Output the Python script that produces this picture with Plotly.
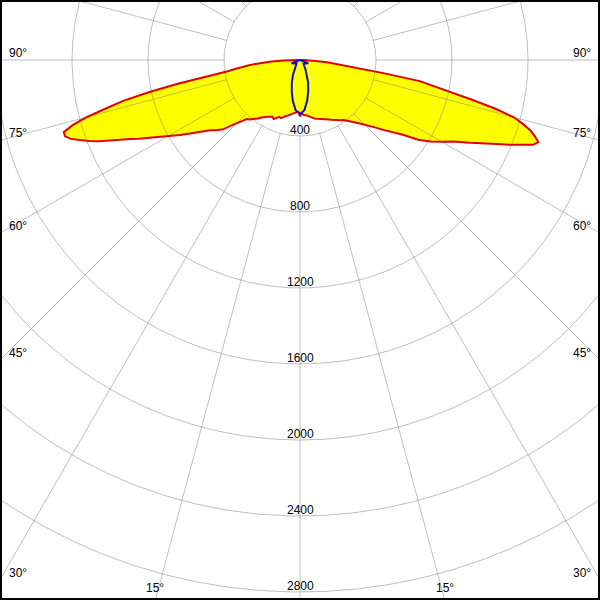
import numpy as np
import plotly.graph_objects as go

# ---------------- data ----------------
# C0-C180 plane (red outline, yellow fill): gamma angle (deg, negative = left) -> intensity (cd)
red_angles = [-90, -89, -88, -87, -86, -85, -84, -83, -82, -81, -80, -79, -78, -77, -76, -75,
              -74, -73, -72, -71, -70, -69, -68, -67, -66, -65, -64, -63, -62, -61, -60, -58,
              -56, -54, -52, -50, -48, -46, -44, -42, -40, -38, -36, -34, -32, -30, -28, -26,
              -24, -22, -20, -18, -16, -14, -12, -10, -8, -6, -4, -2, -1, 0,
              1, 2, 4, 6, 8, 10, 12, 14, 16, 18, 20, 22, 24, 26, 28, 30, 32, 34, 36, 38, 40,
              42, 44, 46, 48, 50, 52, 54, 56, 58, 60, 62, 64, 66, 67, 68, 69, 70, 71, 72, 73,
              74, 75, 76, 77, 78, 79, 80, 81, 82, 83, 84, 85, 86, 87, 88, 89, 90]
red_cd = [0, 40, 85, 150, 195, 235, 275, 315, 350, 390, 510, 650, 810, 955, 1050, 1165,
          1245, 1300, 1300, 1275, 1232, 1190, 1140, 1080, 1025, 985, 945, 905, 865, 830, 800, 745,
          690, 640, 600, 575, 545, 492, 450, 418, 408, 395, 380, 365, 352, 345, 338, 332,
          340, 328, 318, 322, 310, 304, 298, 292, 288, 282, 276, 272, 280, 297,
          280, 285, 290, 292, 298, 305, 312, 318, 322, 326, 330, 332, 340, 348, 356, 365, 372, 382, 390, 405, 420,
          445, 468, 495, 530, 572, 615, 670, 750, 810, 860, 915, 995, 1075, 1130, 1190, 1250, 1305, 1326, 1300, 1268,
          1220, 1165, 1060, 925, 805, 720, 640, 450, 330, 250, 190, 150, 110, 75, 45, 20, 0]

# C90-C270 plane (blue outline)
blue_angles = [-90, -80, -75, -72, -70, -68, -65, -60, -55, -50, -45, -40, -35, -30, -25, -20, -15, -10, -5, 0,
               5, 10, 15, 20, 25, 30, 35, 40, 45, 50, 55, 60, 65, 68, 70, 72, 75, 80, 90]
blue_cd = [0, 0, 3, 12, 30, 47, 44, 38, 33, 28, 26, 30, 40, 58, 88, 125, 168, 218, 265, 285,
           265, 218, 168, 125, 88, 58, 40, 30, 26, 28, 33, 38, 44, 47, 30, 12, 3, 0, 0]

ring_values = [400, 800, 1200, 1600, 2000, 2400, 2800]
ring_labels = ["400", "800", "1200", "1600", "2000", "2400", "2800"]
angle_ticks = [90, 75, 60, 45, 30, 15]
angle_labels = ["90°", "75°", "60°", "45°", "30°", "15°"]

# ---------------- geometry ----------------
W, H = 600, 600
CX, CY = 300, 60          # pole position in pixels
PX_PER_CD = 0.19
x_range = [-CX / PX_PER_CD, (W - CX) / PX_PER_CD]
y_range = [-(H - CY) / PX_PER_CD, CY / PX_PER_CD]


def to_xy(angles, cd):
    g = np.radians(np.asarray(angles, dtype=float))
    r = np.asarray(cd, dtype=float)
    return r * np.sin(g), -r * np.cos(g)


def px_to_data(px, py):
    return (px - CX) / PX_PER_CD, (CY - py) / PX_PER_CD


GRID = "rgba(110,110,110,0.45)"
FONT = dict(family="Liberation Sans, Arial, sans-serif", size=12, color="black")

fig = go.Figure()

# yellow fill (C0-C180)
rx, ry = to_xy(red_angles, red_cd)
fig.add_trace(go.Scatter(x=rx, y=ry, mode="lines", fill="toself", fillcolor="#ffff00",
                         line=dict(width=0, color="rgba(0,0,0,0)"), hoverinfo="skip", showlegend=False))

# grid circles
t = np.linspace(0, 2 * np.pi, 721)
for rv in ring_values:
    fig.add_trace(go.Scatter(x=rv * np.cos(t), y=rv * np.sin(t), mode="lines",
                             line=dict(color=GRID, width=1), hoverinfo="skip", showlegend=False))

# radial grid lines every 15 deg, starting from the first ring
gx, gy = [], []
for a in range(0, 360, 15):
    ar = np.radians(a)
    for rr in (ring_values[0], 5000):
        gx.append(rr * np.sin(ar))
        gy.append(-rr * np.cos(ar))
    gx.append(None)
    gy.append(None)
fig.add_trace(go.Scatter(x=gx, y=gy, mode="lines", line=dict(color=GRID, width=1),
                         hoverinfo="skip", showlegend=False))

# red outline
fig.add_trace(go.Scatter(x=rx, y=ry, mode="lines", line=dict(color="#e00000", width=2),
                         hoverinfo="skip", showlegend=False))
# blue outline
bx, by = to_xy(blue_angles, blue_cd)
fig.add_trace(go.Scatter(x=bx, y=by, mode="lines", line=dict(color="#1010c8", width=2),
                         hoverinfo="skip", showlegend=False))

annotations = []
# ring labels just above each ring on the vertical axis
for rv, lab in zip(ring_values, ring_labels):
    annotations.append(dict(x=0, y=-rv + 6 / PX_PER_CD, xref="x", yref="y", text=lab,
                            showarrow=False, font=FONT, xanchor="center", yanchor="middle"))

# angle labels where the rays meet the frame
for a, lab in zip(angle_ticks, angle_labels):
    ar = np.radians(a)
    s, c = np.sin(ar), np.cos(ar)
    t_side = CX / s if s > 1e-9 else np.inf
    t_bot = (H - CY) / c if c > 1e-9 else np.inf
    for side in (-1, 1):
        if t_side <= t_bot:
            hy = CY + t_side * c
            px = 18 if side < 0 else W - 18
            py = hy - 7
        else:
            hx = CX + side * t_bot * s
            px = hx
            py = H - 12
        dx, dy = px_to_data(px, py)
        annotations.append(dict(x=dx, y=dy, xref="x", yref="y", text=lab, showarrow=False,
                                font=FONT, xanchor="center", yanchor="middle"))

fig.update_layout(
    width=W, height=H,
    margin=dict(l=0, r=0, t=0, b=0),
    paper_bgcolor="white", plot_bgcolor="white",
    xaxis=dict(range=x_range, visible=False, fixedrange=True),
    yaxis=dict(range=y_range, visible=False, fixedrange=True),
    showlegend=False,
    annotations=annotations,
    shapes=[dict(type="rect", xref="paper", yref="paper", x0=0, y0=0, x1=1, y1=1,
                 line=dict(color="black", width=4), layer="above")],
)

fig.write_html("out.html", config={"displayModeBar": False},
               post_script="document.body.style.margin='0';document.body.style.overflow='hidden';")
